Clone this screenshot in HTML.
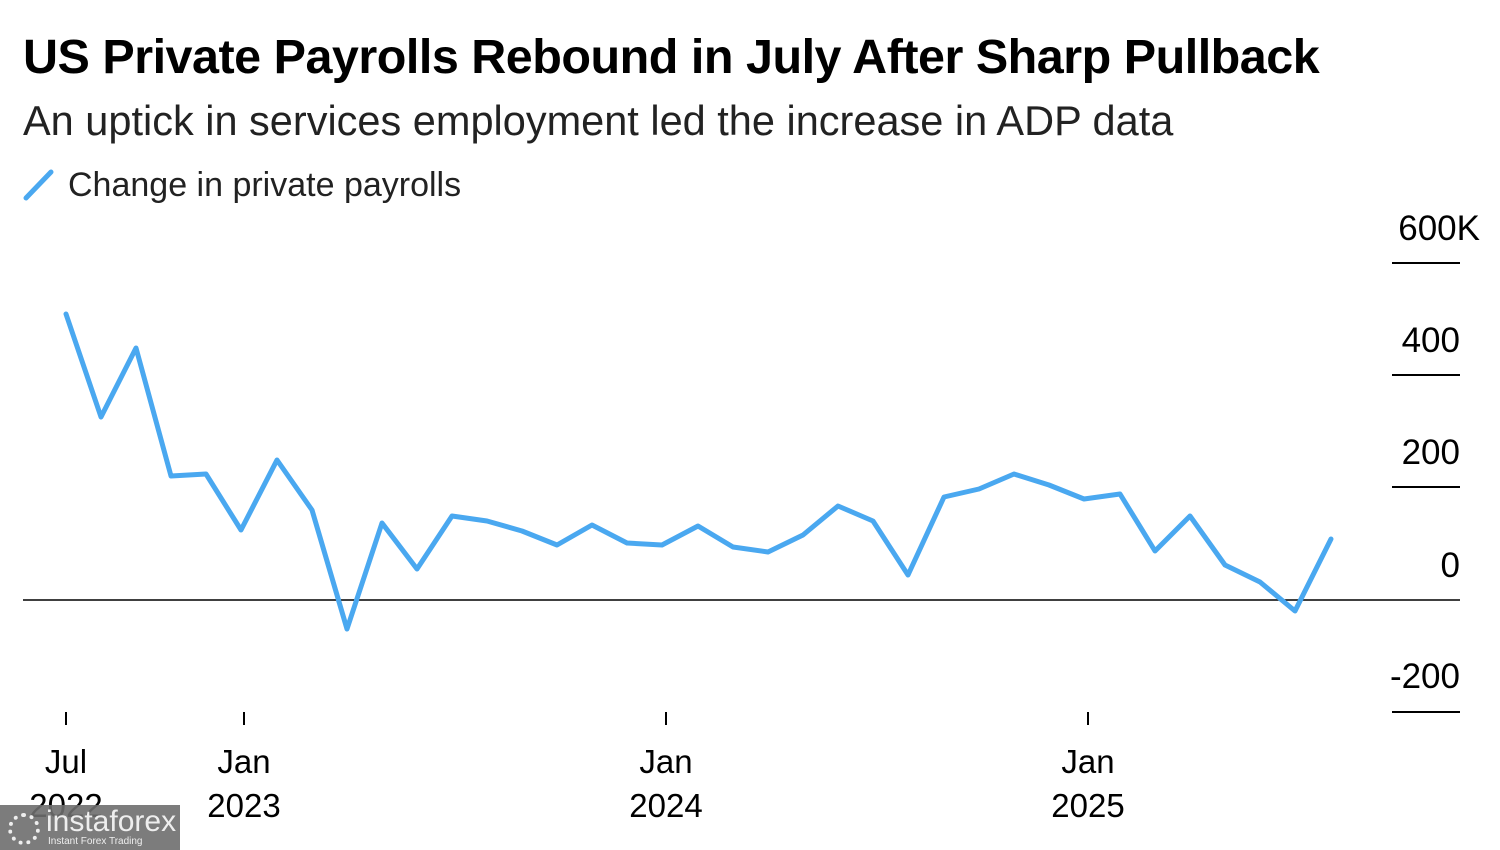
<!DOCTYPE html>
<html><head><meta charset="utf-8"><style>
body{margin:0;width:1500px;height:850px;background:#fff;overflow:hidden;position:relative;font-family:"Liberation Sans",sans-serif;color:#000}
.t{position:absolute;white-space:nowrap}
</style></head><body>
<div class="t" style="left:23px;top:29px;font-size:48.5px;font-weight:bold;letter-spacing:-0.5px">US Private Payrolls Rebound in July After Sharp Pullback</div>
<div class="t" style="left:23px;top:97px;font-size:41.5px;color:#222">An uptick in services employment led the increase in ADP data</div>
<svg style="position:absolute;left:0;top:0" width="1500" height="850">
<line x1="26" y1="198" x2="51" y2="172" stroke="#4aa8f0" stroke-width="5" stroke-linecap="round"/>
<g stroke="#000" stroke-width="2">
<line x1="1392" y1="263" x2="1460" y2="263"/>
<line x1="1392" y1="375" x2="1460" y2="375"/>
<line x1="1392" y1="487" x2="1460" y2="487"/>
<line x1="1392" y1="712" x2="1460" y2="712"/>
<line x1="23" y1="600" x2="1460" y2="600" stroke-width="1.5"/>
<line x1="66" y1="712" x2="66" y2="725"/>
<line x1="244" y1="712" x2="244" y2="725"/>
<line x1="666" y1="712" x2="666" y2="725"/>
<line x1="1088" y1="712" x2="1088" y2="725"/>
</g>
<polyline fill="none" stroke="#4aa8f0" stroke-width="5" stroke-linejoin="round" stroke-linecap="round" points="66,314 101,417 136,348 171,476 206,474 241,530 277,460 312,510 347,629 382,523 417,569 452,516 487,521 522,531 557,545 592,525 627,543 662,545 698,526 733,547 768,552 803,535 838,506 873,521 908,575 944,497 979,489 1014,474 1049,485 1084,499 1120,494 1155,551 1190,516 1225,565 1260,582 1295,611 1331,539"/>
</svg>
<div class="t" style="left:68px;top:166px;font-size:34px;color:#222">Change in private payrolls</div>
<div class="t" style="right:20px;top:209px;font-size:35px">600K</div>
<div class="t" style="right:40px;top:321px;font-size:35px">400</div>
<div class="t" style="right:40px;top:433px;font-size:35px">200</div>
<div class="t" style="right:40px;top:546px;font-size:35px">0</div>
<div class="t" style="right:40px;top:657px;font-size:35px">-200</div>
<div class="t" style="left:66px;top:740px;font-size:33px;transform:translateX(-50%);text-align:center;line-height:44px">Jul<br>2022</div>
<div class="t" style="left:244px;top:740px;font-size:33px;transform:translateX(-50%);text-align:center;line-height:44px">Jan<br>2023</div>
<div class="t" style="left:666px;top:740px;font-size:33px;transform:translateX(-50%);text-align:center;line-height:44px">Jan<br>2024</div>
<div class="t" style="left:1088px;top:740px;font-size:33px;transform:translateX(-50%);text-align:center;line-height:44px">Jan<br>2025</div>
<div style="position:absolute;left:0;top:805px;width:180px;height:45px;background:rgba(110,110,110,0.9)">
<div style="position:absolute;left:8px;top:8px;width:32px;height:32px;border-radius:50%;border:4px dotted #eee;box-sizing:border-box"></div>
<div class="t" style="left:46px;top:0px;font-size:30px;color:#eee">instaforex</div>
<div class="t" style="left:48px;top:31px;font-size:10px;color:#eee">Instant Forex Trading</div>
</div>
</body></html>
